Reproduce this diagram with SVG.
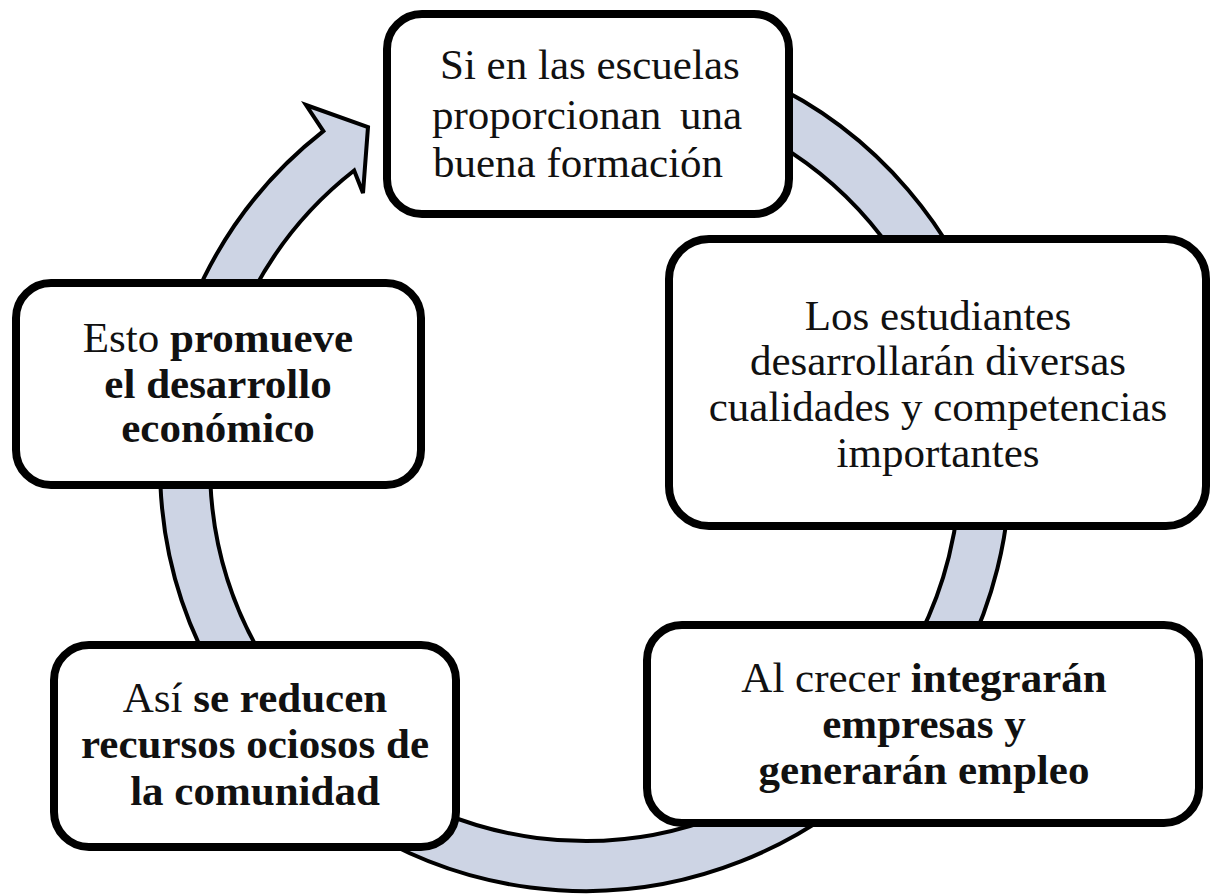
<svg xmlns="http://www.w3.org/2000/svg" width="1215" height="894" viewBox="0 0 1215 894">
<style>
.box{fill:#ffffff;stroke:#000000;stroke-width:8}
.band{fill:#cdd4e4;stroke:#000000;stroke-width:4;stroke-linejoin:miter}
text{font-family:"Liberation Serif","Times New Roman",serif;font-size:43px;fill:#111111}
.c{text-anchor:middle}
.b{font-weight:bold}
</style>
<rect width="1215" height="894" fill="#ffffff"/>
<g id="connectors">
<path class="band" d="M 547.96 42.62 A 425 425 0 1 1 323.34 131.10 L 306 105 L 368 127 L 363 193 L 354.13 170.50 A 375 375 0 1 0 552.31 92.43 Z"/>
</g>
<g id="node-escuelas">
<rect class="box" x="387" y="14" width="402" height="200" rx="35"/>
<text x="440" y="79">Si en las escuelas</text>
<text y="129"><tspan x="432">proporcionan</tspan><tspan x="680">una</tspan></text>
<text x="433" y="177">buena formación</text>
</g>
<g id="node-estudiantes">
<rect class="box" x="669" y="239" width="537" height="287" rx="40"/>
<text class="c" x="938" y="330">Los estudiantes</text>
<text class="c" x="938" y="375">desarrollarán diversas</text>
<text class="c" x="938" y="421">cualidades y competencias</text>
<text class="c" x="938" y="467">importantes</text>
</g>
<g id="node-empresas">
<rect class="box" x="647" y="625" width="552" height="198" rx="35"/>
<text class="c" x="924" y="692">Al crecer <tspan class="b">integrarán</tspan></text>
<text class="c b" x="924" y="738">empresas y</text>
<text class="c b" x="924" y="784">generarán empleo</text>
</g>
<g id="node-recursos">
<rect class="box" x="54" y="645" width="402" height="202" rx="35"/>
<text class="c" x="255" y="712">Así <tspan class="b">se reducen</tspan></text>
<text class="c b" x="255" y="758">recursos ociosos de</text>
<text class="c b" x="255" y="805">la comunidad</text>
</g>
<g id="node-desarrollo">
<rect class="box" x="16" y="283" width="405" height="202" rx="35"/>
<text class="c" x="218" y="352">Esto <tspan class="b">promueve</tspan></text>
<text class="c b" x="218" y="398">el desarrollo</text>
<text class="c b" x="218" y="442">económico</text>
</g>
</svg>
